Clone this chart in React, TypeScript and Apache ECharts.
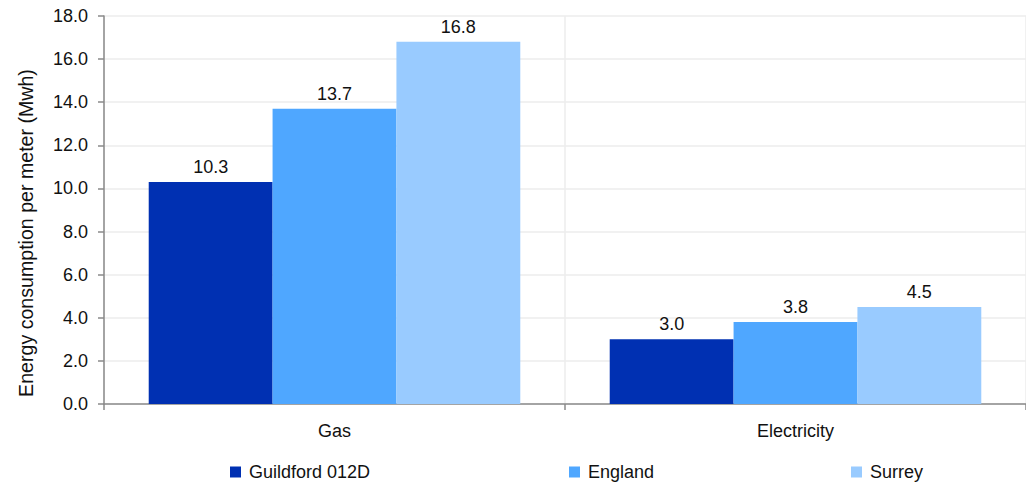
import React, { useEffect, useRef } from "react";
import * as echarts from "echarts";

const categories = ["Gas", "Electricity"];
const seriesNames = ["Guildford 012D", "England", "Surrey"];
const guildford = [10.3, 3.0];
const england = [13.7, 3.8];
const surrey = [16.8, 4.5];
const colors = ["#0030B2", "#4FA7FF", "#99CBFF"];
const legendLefts = [230, 569, 851];

const FONT = "'Liberation Sans', Arial, Helvetica, sans-serif";

export default function App() {
  const ref = useRef<HTMLDivElement>(null);
  useEffect(() => {
    if (!ref.current) return;
    const chart = echarts.init(ref.current, null, { renderer: "svg" });
    const values = [guildford, england, surrey];
    chart.setOption({
      animation: false,
      textStyle: { fontFamily: FONT },
      grid: { left: 104, right: 0, top: 16, bottom: 79, containLabel: false },
      legend: seriesNames.map((n, i) => ({
        data: [n],
        left: legendLefts[i],
        top: 462,
        padding: 0,
        icon: "rect",
        itemWidth: 11,
        itemHeight: 11,
        itemGap: 0,
        textStyle: { fontSize: 18, color: "#111", fontFamily: FONT, padding: [0, 0, 0, 3], lineHeight: 20 },
      })),
      xAxis: {
        type: "category",
        data: categories,
        axisLine: { lineStyle: { color: "#8a8a8a", width: 1.5 } },
        axisTick: { show: true, length: 6, lineStyle: { color: "#8a8a8a", width: 1.5 } },
        axisLabel: { fontSize: 18, color: "#111", margin: 18, fontFamily: FONT },
        splitLine: { show: true, lineStyle: { color: "#ececec", width: 1.5 } },
      },
      yAxis: {
        type: "value",
        min: 0,
        max: 18,
        interval: 2,
        name: "Energy consumption per meter (Mwh)",
        nameLocation: "middle",
        nameRotate: 90,
        nameGap: 68,
        nameTextStyle: { fontSize: 19.6, color: "#111", fontFamily: FONT, padding: [0, 46, 0, 0] },
        axisLine: { show: true, lineStyle: { color: "#8a8a8a", width: 1.5 } },
        axisTick: { show: true, length: 6, lineStyle: { color: "#8a8a8a", width: 1.5 } },
        axisLabel: {
          fontSize: 18,
          color: "#111",
          margin: 16,
          fontFamily: FONT,
          formatter: (v: number) => v.toFixed(1),
        },
        splitLine: { show: true, lineStyle: { color: "#ececec", width: 1.5 } },
      },
      series: seriesNames.map((n, i) => ({
        name: n,
        type: "bar",
        data: values[i],
        barGap: "0%",
        barCategoryGap: "19.4%",
        itemStyle: { color: colors[i] },
        label: {
          show: true,
          position: "top",
          distance: 6,
          fontSize: 18,
          color: "#111",
          fontFamily: FONT,
          formatter: (p: any) => Number(p.value).toFixed(1),
        },
      })),
    });
    return () => chart.dispose();
  }, []);
  return (
    <div
      ref={ref}
      style={{ position: "absolute", left: 0, top: 0, width: 1026, height: 483 }}
    />
  );
}
